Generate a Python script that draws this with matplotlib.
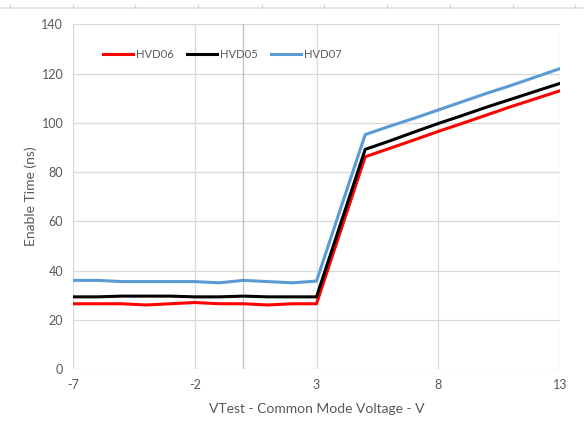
import matplotlib
matplotlib.use('Agg')
import matplotlib.pyplot as plt
from matplotlib.lines import Line2D

# common mode voltage (V)
vcm = [-7, -6, -5, -4, -3, -2, -1, 0, 1, 2, 3, 4, 5, 6, 7, 8, 9, 10, 11, 12, 13]

# enable time (ns)
hvd06 = [26.5, 26.5, 26.5, 26.0, 26.5, 27.0, 26.5, 26.5, 26.0, 26.5, 26.5,
         56.4, 86.2, 89.6, 93.0, 96.5, 99.8, 103.2, 106.6, 109.8, 113.0]
hvd05 = [29.3, 29.3, 29.6, 29.6, 29.6, 29.3, 29.3, 29.6, 29.3, 29.3, 29.3,
         59.3, 89.2, 92.6, 96.2, 99.7, 103.0, 106.4, 109.6, 112.8, 116.0]
hvd07 = [36.0, 36.0, 35.5, 35.5, 35.5, 35.5, 35.0, 36.0, 35.5, 35.0, 35.7,
         65.5, 95.2, 98.6, 101.8, 105.2, 108.6, 112.0, 115.2, 118.6, 122.0]

x_ticks = [-7, -2, 3, 8, 13]
y_ticks = [0, 20, 40, 60, 80, 100, 120, 140]

plt.rcParams['font.family'] = ['Lato', 'DejaVu Sans']
plt.rcParams['axes.unicode_minus'] = False
txt = '#595959'
grid = '#d9d9d9'

fig = plt.figure(figsize=(5.84, 4.36), dpi=100)
ax = fig.add_axes([73 / 584, 1 - 369 / 436, 487 / 584, 344.7 / 436])

ax.set_xlim(-7, 13)
ax.set_ylim(0, 140)
ax.set_xticks(x_ticks)
ax.set_yticks(y_ticks)
ax.grid(True, color=grid, linewidth=0.9)
ax.set_axisbelow(True)
for s in ax.spines.values():
    s.set_visible(False)
ax.axvline(0, color='#bfbfbf', linewidth=0.9, zorder=1)
ax.tick_params(length=0, labelsize=9, colors=txt, pad=7)

ax.plot(vcm, hvd06, color='#ff0000', linewidth=2.2, label='HVD06')
ax.plot(vcm, hvd05, color='#000000', linewidth=2.2, label='HVD05')
ax.plot(vcm, hvd07, color='#5b9bd5', linewidth=2.2, label='HVD07')

ax.set_xlabel('VTest - Common Mode Voltage - V', fontsize=10, color=txt, labelpad=9)
ax.set_ylabel('Enable Time (ns)', fontsize=10, color=txt, labelpad=3)

leg = ax.legend(ncol=3, frameon=False, fontsize=8.1, loc='center left',
                bbox_to_anchor=(102.7 / 584, 1 - 54.3 / 436),
                bbox_transform=fig.transFigure, borderpad=0, borderaxespad=0,
                handlelength=2.7, handletextpad=0.27, columnspacing=1.15)
for t in leg.get_texts():
    t.set_color(txt)

# spreadsheet cell border at the top
yb = 1 - 8 / 436
fig.add_artist(Line2D([0, 1], [yb, yb], color='#e3e3e3', linewidth=1.2))
for px in [10, 73, 135, 198, 262, 324, 387, 450, 513, 575]:
    fig.add_artist(Line2D([px / 584, px / 584], [yb, yb + 2.5 / 436],
                          color='#d0d0d0', linewidth=0.8))

fig.savefig('out.png', dpi=100)
